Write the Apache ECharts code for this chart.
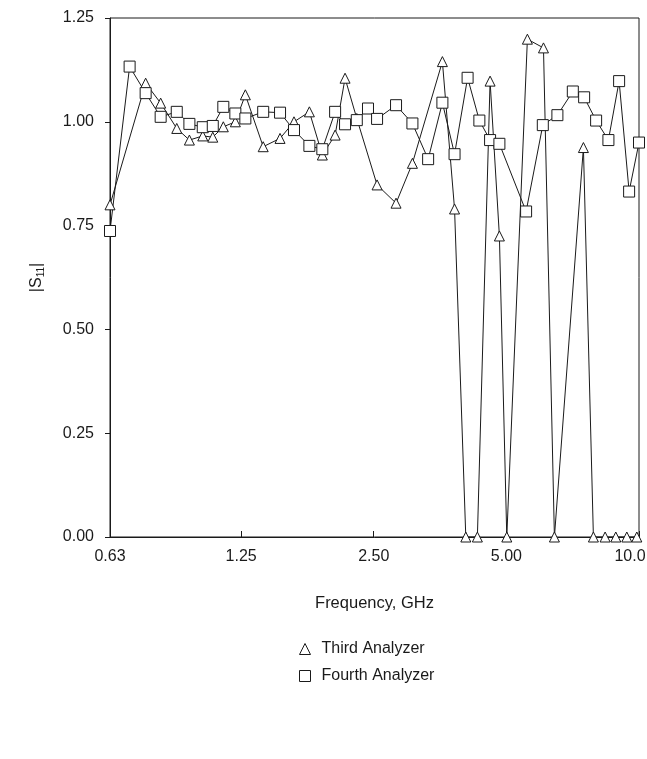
<!DOCTYPE html>
<html>
<head>
<meta charset="utf-8">
<script src="https://cdn.jsdelivr.net/npm/echarts@6/dist/echarts.min.js"></script>
<style>
html,body{margin:0;padding:0;background:#fff;}
#chart{width:647px;height:759px;}
</style>
</head>
<body>
<div id="chart"></div>
<script>
// Frequencies (GHz) and |S11| values
const thirdFreq = [0.63, 0.759, 0.821, 0.893, 0.954, 1.023, 1.078, 1.139, 1.213, 1.278, 1.403, 1.532, 1.648, 1.786, 1.911, 2.043, 2.152, 2.288, 2.544, 2.809, 3.060, 3.579, 3.814, 4.045, 4.297, 4.592, 4.821, 5.011, 5.581, 6.07, 6.427, 7.479, 7.880, 8.377, 8.858, 9.383, 9.887];
const thirdS11 = [0.800, 1.093, 1.045, 0.984, 0.956, 0.966, 0.963, 0.988, 1.000, 1.065, 0.940, 0.960, 1.000, 1.024, 0.920, 0.968, 1.105, 1.008, 0.848, 0.804, 0.900, 1.145, 0.790, 0, 0, 1.098, 0.725, 0, 1.199, 1.178, 0, 0.938, 0, 0, 0, 0, 0];
const fourthFreq = [0.63, 0.698, 0.759, 0.821, 0.893, 0.954, 1.023, 1.078, 1.139, 1.213, 1.278, 1.403, 1.532, 1.648, 1.786, 1.911, 2.043, 2.152, 2.288, 2.426, 2.544, 2.809, 3.060, 3.322, 3.579, 3.814, 4.083, 4.342, 4.592, 4.821, 5.543, 6.049, 6.528, 7.076, 7.507, 7.992, 8.523, 9.013, 9.497, 10.0];
const fourthS11 = [0.737, 1.133, 1.069, 1.012, 1.024, 0.995, 0.987, 0.990, 1.036, 1.020, 1.008, 1.024, 1.022, 0.980, 0.942, 0.934, 1.024, 0.994, 1.004, 1.032, 1.007, 1.040, 0.996, 0.910, 1.046, 0.922, 1.106, 1.003, 0.956, 0.947, 0.784, 0.992, 1.016, 1.073, 1.059, 1.003, 0.956, 1.098, 0.832, 0.950];
const xTicks = [0.63, 1.25, 2.5, 5, 10];
const xTickLabels = ['0.63', '1.25', '2.50', '5.00', '10.0'];
const seriesNames = ['Third Analyzer', 'Fourth Analyzer'];

const pair = (xs, ys) => xs.map((x, i) => [x, ys[i]]);
const font = 'Liberation Sans, Arial, sans-serif';
const ink = '#1a1a1a';

const chart = echarts.init(document.getElementById('chart'), null, {renderer: 'canvas'});
chart.setOption({
  animation: false,
  backgroundColor: '#fff',
  grid: {left: 110, right: 8, top: 18, bottom: 222, outerBoundsMode: 'none', containLabel: false,
         show: true, borderColor: ink, borderWidth: 1, backgroundColor: 'transparent'},
  xAxis: {
    type: 'log', logBase: 2, min: 0.63, max: 10,
    name: 'Frequency, GHz', nameLocation: 'middle', nameGap: 58,
    nameTextStyle: {fontFamily: font, fontSize: 16.5, color: ink},
    axisLine: {lineStyle: {color: ink, width: 1}},
    axisTick: {inside: true, length: 6, customValues: xTicks, lineStyle: {color: ink}},
    axisLabel: {customValues: xTicks, margin: 12, fontFamily: font, fontSize: 16, color: ink,
      rich: {last: {fontFamily: font, fontSize: 16, color: ink, padding: [0, 18, 0, 0]}},
      formatter: v => {
        const i = xTicks.findIndex(t => Math.abs(t - v) < 1e-6);
        if (i < 0) return '';
        return i === xTicks.length - 1 ? '{last|' + xTickLabels[i] + '}' : xTickLabels[i];
      }},
    splitLine: {show: false}, minorTick: {show: false}
  },
  yAxis: {
    type: 'value', min: 0, max: 1.25, interval: 0.25,
    name: '|{s|S}{b|11}|', nameLocation: 'middle', nameGap: 64,
    nameTextStyle: {fontFamily: font, fontSize: 16, color: ink,
      rich: {s: {fontFamily: font, fontSize: 16, color: ink},
             b: {fontFamily: font, fontSize: 10, color: ink, verticalAlign: 'bottom', padding: [9, 0, 0, 0]}}},
    axisLine: {show: true, lineStyle: {color: ink, width: 1}},
    axisTick: {show: true, inside: false, length: 5, lineStyle: {color: ink}},
    axisLabel: {margin: 16, fontFamily: font, fontSize: 16, color: ink, formatter: v => v.toFixed(2)},
    splitLine: {show: false}
  },
  legend: {
    orient: 'vertical', left: 299, top: 641, padding: 0, itemGap: 11, itemWidth: 11, itemHeight: 11,
    textStyle: {fontFamily: font, fontSize: 16, color: ink, padding: [0, 0, 0, 6]},
    itemStyle: {color: '#fff', borderColor: ink, borderWidth: 1},
    data: [{name: seriesNames[0], icon: 'triangle'}, {name: seriesNames[1], icon: 'rect'}]
  },
  series: [
    {name: seriesNames[0], type: 'line', data: pair(thirdFreq, thirdS11), symbol: 'triangle', symbolSize: 10,
     showAllSymbol: true, lineStyle: {color: ink, width: 1}, itemStyle: {color: '#fff', borderColor: ink, borderWidth: 1}},
    {name: seriesNames[1], type: 'line', data: pair(fourthFreq, fourthS11), symbol: 'rect', symbolSize: 11,
     showAllSymbol: true, lineStyle: {color: ink, width: 1}, itemStyle: {color: '#fff', borderColor: ink, borderWidth: 1}}
  ]
});
</script>
</body>
</html>
